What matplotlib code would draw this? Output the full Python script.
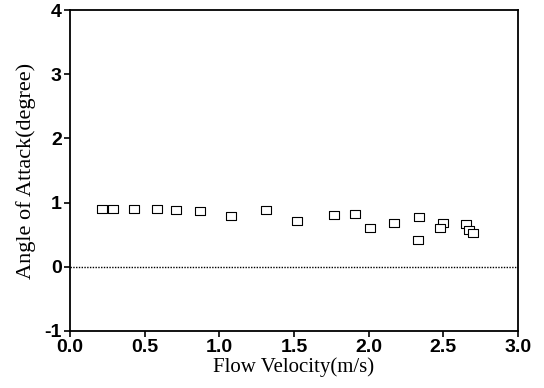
import matplotlib
matplotlib.use("Agg")
import matplotlib.pyplot as plt

# data
velocity = [0.21, 0.29, 0.43, 0.58, 0.71, 0.87, 1.08, 1.31, 1.52, 1.77,
            1.91, 2.01, 2.17, 2.34, 2.33, 2.50, 2.48, 2.65, 2.67, 2.70]
angle = [0.90, 0.90, 0.90, 0.90, 0.89, 0.87, 0.79, 0.88, 0.71, 0.80,
         0.82, 0.61, 0.68, 0.78, 0.41, 0.68, 0.61, 0.66, 0.58, 0.53]
xticks = [0.0, 0.5, 1.0, 1.5, 2.0, 2.5, 3.0]
yticks = [-1, 0, 1, 2, 3, 4]

fig = plt.figure(figsize=(5.44, 3.88), dpi=100)
ax = fig.add_axes([0.129, 0.147, 0.823, 0.827])

# slightly wide open rectangles, like the scanned markers
rect = [(-1.35, -1), (1.35, -1), (1.35, 1), (-1.35, 1), (-1.35, -1)]
ax.plot(velocity, angle, linestyle='none', marker=rect, markersize=7.5,
        markerfacecolor='white', markeredgecolor='black', markeredgewidth=0.8)
ax.axhline(0, color='black', linestyle=(0, (1, 1)), linewidth=1.0)

ax.set_xlim(0, 3)
ax.set_ylim(-1, 4)
ax.set_xticks(xticks)
ax.set_xticklabels([f"{t:.1f}" for t in xticks])
ax.set_yticks(yticks)
ax.set_yticklabels([str(t) for t in yticks])
ax.tick_params(direction='out', length=4, width=1.2, labelsize=14, pad=2)
for lab in ax.get_xticklabels() + ax.get_yticklabels():
    lab.set_fontfamily('Liberation Sans')
    lab.set_fontweight('bold')
for s in ax.spines.values():
    s.set_linewidth(1.3)

ax.set_xlabel('Flow Velocity(m/s)', family='Liberation Serif', fontsize=15, labelpad=1)
ax.set_ylabel('Angle of Attack(degree)', family='Liberation Serif', fontsize=16, labelpad=6)

fig.savefig('out.png', dpi=100)
